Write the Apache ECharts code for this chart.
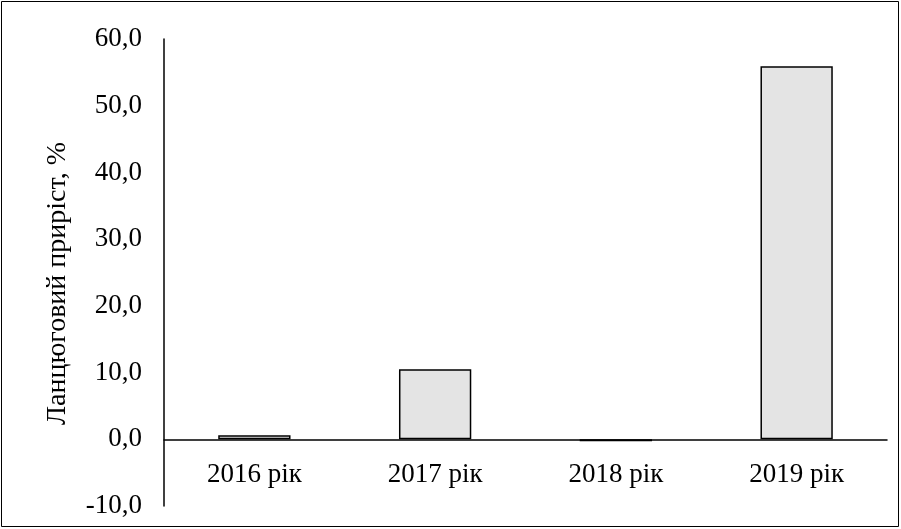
<!DOCTYPE html>
<html><head><meta charset="utf-8">
<script src="https://cdn.jsdelivr.net/npm/echarts@6/dist/echarts.min.js"></script>
<style>html,body{margin:0;padding:0;background:#fff}#c{width:901px;height:529px}</style>
</head><body><div id="c"></div>
<script>
const categories = ['2016 рік', '2017 рік', '2018 рік', '2019 рік'];
const growthValues = [0.6, 10.5, -0.3, 55.9];
const yAxisName = 'Ланцюговий приріст, %';

const chart = echarts.init(document.getElementById('c'));
const font = '"Liberation Serif", "Times New Roman", serif';
chart.setOption({
  animation: false,
  backgroundColor: '#fff',
  graphic: [{type: 'rect', shape: {x: 1.5, y: 1.5, width: 897, height: 525}, style: {fill: 'none', stroke: '#000', lineWidth: 1}}],
  grid: {left: 164, right: 14, top: 39, bottom: 23, outerBoundsMode: 'none', containLabel: false},
  xAxis: {
    type: 'category', data: categories,
    axisLine: {onZero: true, lineStyle: {color: '#000', width: 1.5}},
    axisTick: {show: false},
    axisLabel: {color: '#000', fontFamily: font, fontSize: 27, margin: -45}
  },
  yAxis: {
    type: 'value', min: -10, max: 60, interval: 10,
    name: yAxisName, nameLocation: 'middle', nameGap: 92, nameRotate: 90,
    nameTextStyle: {color: '#000', fontFamily: font, fontSize: 28, padding: [0, 22, 0, 0]},
    axisLine: {show: true, lineStyle: {color: '#000', width: 1.5}},
    axisTick: {show: false},
    splitLine: {show: false},
    axisLabel: {color: '#000', fontFamily: font, fontSize: 27, margin: 22,
      formatter: v => v.toFixed(1).replace('.', ',')}
  },
  series: [{
    type: 'bar', data: growthValues, barWidth: '40%',
    itemStyle: {color: '#e4e4e4', borderColor: '#000', borderWidth: 1.5}
  }]
});
</script></body></html>
